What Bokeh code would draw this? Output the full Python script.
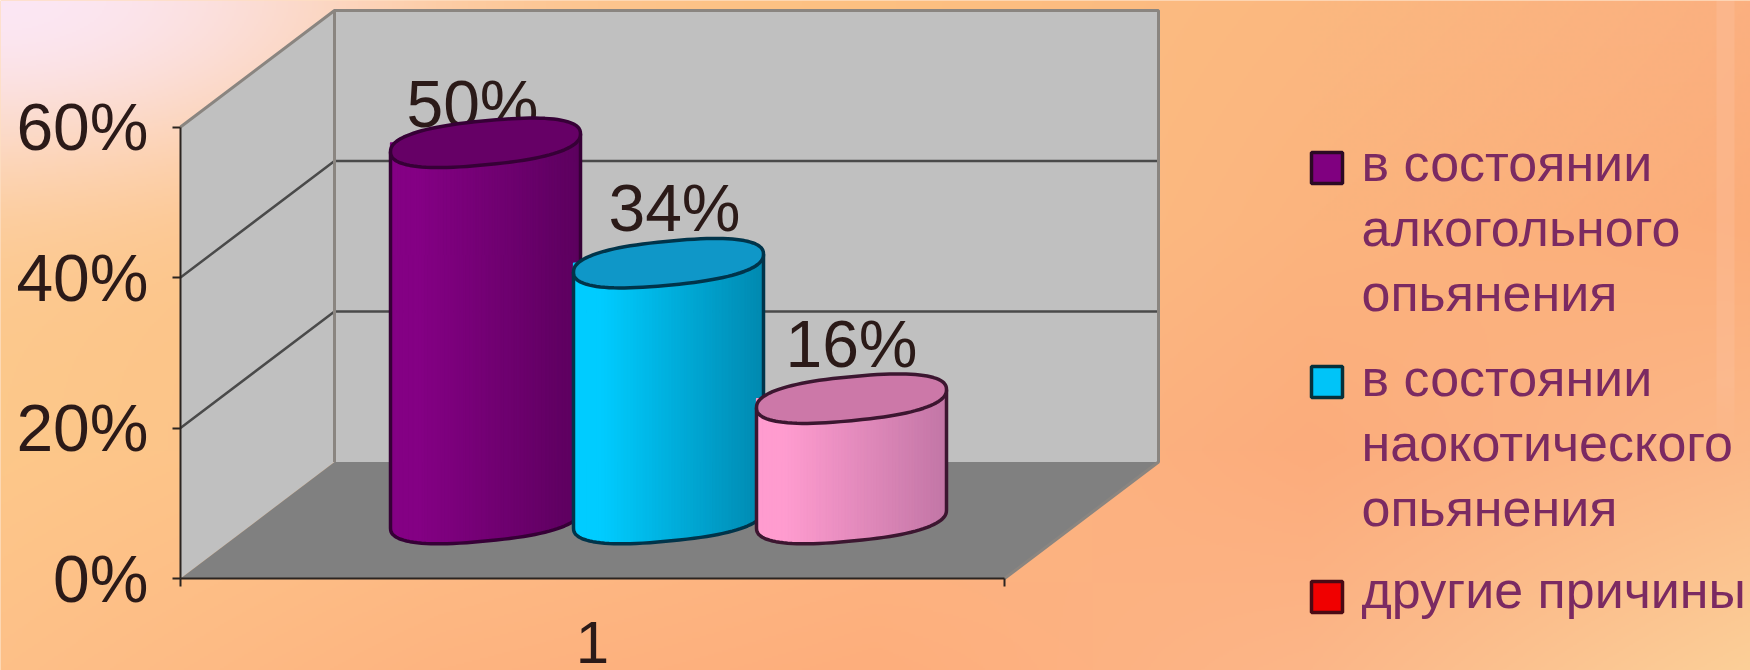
import numpy as np
from bokeh.embed import file_html
from bokeh.resources import INLINE
from bokeh.plotting import figure
from bokeh.models import Range1d, LinearAxis, FixedTicker, ColumnDataSource
from bokeh.core.properties import value

# ---- chart data ----
series_names = ["в состоянии алкогольного опьянения", "в состоянии наокотического опьянения", "другие причины"]
series_values = [50, 34, 16]
value_labels = ["50%", "34%", "16%"]
y_ticks = [0, 20, 40, 60]
y_tick_labels = ["0%", "20%", "40%", "60%"]
category_labels = ["1"]
legend_lines = [["в состоянии", "алкогольного", "опьянения"],
                ["в состоянии", "наокотического", "опьянения"],
                ["другие причины"]]

# ---- styles ----
side_left = ["#840084", "#00ccff", "#ff9ccf"]
side_right = ["#5c005e", "#0089b0", "#c276a6"]
top_fill = ["#660066", "#0f97c8", "#cc78a8"]
edge = ["#360036", "#00344a", "#3c1630"]
swatch_fill = ["#800080", "#00c4f8", "#f00000"]
swatch_edge = ["#2c0a24", "#06303a", "#4a0a14"]
text_dark = "#2b1a18"
legend_color = "#7b2a62"
FONT = "Liberation Sans"

# ---- geometry in reference pixels ----
PX = 7.525            # pixels per percentage point
X0, X1, Y0 = 180, 1004, 578
DX, DY = 154, 116.5   # depth shift of the back wall
LEFT, RIGHT, TOP, BOTTOM = 0, 1750, 0, 670


def v(py):
    return (Y0 - py) / PX


p = figure(width=1750, height=670, x_range=Range1d(LEFT, RIGHT), y_range=Range1d(v(BOTTOM), v(TOP)),
           x_axis_type=None, y_axis_type=None, toolbar_location=None, output_backend="svg",
           min_border=0, outline_line_color=None, background_fill_color="#fdbf85",
           border_fill_color="#fdbf85")
p.grid.visible = False

# ---- page background ----
w, h = 875, 335
xx, yy = np.meshgrid(np.linspace(LEFT, RIGHT, w), np.linspace(BOTTOM, TOP, h))
grid_x = np.array([0, 440, 875, 1310, 1750.0])
grid_y = np.array([0, 220, 450, 670.0])
grid_hex = [["#fdd0a4", "#fdc080", "#fdc080", "#fbb880", "#fbb080"],
            ["#fdc88c", "#fdc080", "#fcc084", "#fbb47e", "#fbad7a"],
            ["#fdc88a", "#fdc088", "#fcb884", "#fcac7c", "#fbb888"],
            ["#fdc088", "#feb480", "#feae7c", "#fcb688", "#fbcf98"]]
grid_rgb = np.array([[[int(c[i:i + 2], 16) for i in (1, 3, 5)] for c in row] for row in grid_hex], float)
ix = np.clip(np.searchsorted(grid_x, xx) - 1, 0, 3)
iy = np.clip(np.searchsorted(grid_y, yy) - 1, 0, 2)
fx = ((xx - grid_x[ix]) / (grid_x[ix + 1] - grid_x[ix]))[..., None]
fy = ((yy - grid_y[iy]) / (grid_y[iy + 1] - grid_y[iy]))[..., None]
bg = (grid_rgb[iy, ix] * (1 - fx) * (1 - fy) + grid_rgb[iy, ix + 1] * fx * (1 - fy)
      + grid_rgb[iy + 1, ix] * (1 - fx) * fy + grid_rgb[iy + 1, ix + 1] * fx * fy)
glow = np.exp(-((xx / 420) ** 2 + (yy / 170) ** 2))[..., None] * 0.95
bg = bg * (1 - glow) + np.array([251, 232, 248.0]) * glow
strip = ((xx > 1716) & (xx < 1734)) * np.clip((440 - yy) / 60, 0, 1) * 0.32
bg = bg * (1 - strip[..., None]) + np.array([252, 196, 165.0]) * strip[..., None]
img = np.zeros((h, w), dtype=np.uint32)
view = img.view(np.uint8).reshape((h, w, 4))
view[..., :3] = np.clip(bg, 0, 255).astype(np.uint8)
view[..., 3] = 255
p.image_rgba(image=[img], x=LEFT, y=v(BOTTOM), dw=RIGHT - LEFT, dh=v(TOP) - v(BOTTOM))

# ---- 3-D box ----
top_v = y_ticks[-1]
dv = DY / PX
p.patch([X0, X0, X0 + DX, X0 + DX], [0, top_v, top_v + dv, dv], fill_color="#c0c0c0", line_color=None)
p.patch([X0 + DX, X0 + DX, X1 + DX, X1 + DX], [dv, top_v + dv, top_v + dv, dv], fill_color="#c0c0c0", line_color=None)
p.patch([X0, X0 + DX, X1 + DX, X1], [0, dv, dv, 0], fill_color="#808080", line_color=None)
mid = y_ticks[1:-1]
p.multi_line([[X0, X0 + DX, X1 + DX] for _ in mid], [[t, t + dv, t + dv] for t in mid],
             line_color="#4a4a4a", line_width=2.5)
p.multi_line([[X0, X0 + DX, X1 + DX, X1 + DX, X1], [X0 + DX, X0 + DX]],
             [[top_v, top_v + dv, top_v + dv, dv, 0], [top_v + dv, dv]],
             line_color="#8a8580", line_width=3)

# ---- axes ----
y_axis = LinearAxis(fixed_location=X0, bounds=(0, top_v), ticker=FixedTicker(ticks=y_ticks),
                    major_label_overrides=dict(zip(y_ticks, y_tick_labels)),
                    major_label_text_font=FONT, major_label_text_font_size="66px",
                    major_label_text_color=text_dark, major_label_standoff=24,
                    major_tick_in=0, major_tick_out=8, minor_tick_line_color=None,
                    axis_line_color="#2b2420", axis_line_width=2, major_tick_line_color="#2b2420",
                    major_tick_line_width=2)
p.add_layout(y_axis, "left")
x_axis = LinearAxis(fixed_location=0, bounds=(X0, X1),
                    ticker=FixedTicker(ticks=[(X0 + X1) / 2], minor_ticks=[X0, X1]),
                    major_label_overrides={(X0 + X1) / 2: category_labels[0]},
                    major_label_text_font=FONT, major_label_text_font_size="60px",
                    major_label_text_color=text_dark, major_label_standoff=35,
                    major_tick_in=0, major_tick_out=0, minor_tick_in=0, minor_tick_out=8,
                    axis_line_color="#2b2420", axis_line_width=2, minor_tick_line_color="#2b2420",
                    minor_tick_line_width=2)
p.add_layout(x_axis, "below")

# ---- cylinders ----
BASE = 7.9           # base centre above the front axis, percent units
A, B, C = 95, 22, 9  # ellipse half width / half height / tilt, pixels
cx_first, cx_step = 485, 183


def ring(cx, cv):
    t = np.linspace(0, 2 * np.pi, 97)
    ux = np.sign(np.cos(t)) * np.abs(np.cos(t)) ** 0.8
    uy = np.sign(np.sin(t)) * np.abs(np.sin(t)) ** 0.85
    return cx + A * ux, cv + (B * uy + C * ux) / PX


def lerp_hex(a, b, f):
    ca = [int(a[i:i + 2], 16) for i in (1, 3, 5)]
    cb = [int(b[i:i + 2], 16) for i in (1, 3, 5)]
    return "#%02x%02x%02x" % tuple(int(round(x + (y - x) * f)) for x, y in zip(ca, cb))


label_dx = [-13, 6, 0]
label_dy = [13, 29, 29]
centres = [cx_first + cx_step * i for i in range(len(series_values))]
tops = [BASE + val for val in series_values]

# labels sit behind the cylinders
p.text(x=[c + d for c, d in zip(centres, label_dx)], y=[t + d / PX for t, d in zip(tops, label_dy)],
       text=value_labels, text_font=value(FONT), text_font_size="66px", text_color=text_dark,
       text_align="center", text_baseline="alphabetic", y_offset=-26)

for i, val in enumerate(series_values):
    cx, tv = centres[i], tops[i]
    bx, by = ring(cx, BASE)
    tx, ty = ring(cx, tv)
    half = len(bx) // 2
    lx, ly = bx[half:], by[half:]   # lower edge of the base, left to right
    n = 60
    edges = np.linspace(cx - A, cx + A, n + 1)
    mids = (edges[:-1] + edges[1:]) / 2
    cols = [lerp_hex(side_left[i], side_right[i], max(0.0, (m - (cx - A)) / (2 * A) - 0.15) / 0.85) for m in mids]
    src = ColumnDataSource(dict(left=edges[:-1], right=edges[1:], top=[tv] * n,
                                bottom=np.interp(mids, lx, ly), c=cols))
    p.quad(left="left", right="right", top="top", bottom="bottom", fill_color="c", line_color="c",
           line_width=1.2, source=src)
    ox = [lx[0]] + list(lx) + [lx[-1]]
    oy = [ty[half]] + list(ly) + [ty[0]]
    p.line(ox, oy, line_color=edge[i], line_width=3.5, line_join="round")
    p.patch(tx, ty, fill_color=top_fill[i], line_color=edge[i], line_width=3.5, line_join="round")

# ---- legend ----
sw_centres = [167.5, 381.5, 596.5]
line_first = [183, 398, 610]
line_step = 65
SW = 31
p.rect(x=[1326.5] * 3, y=[v(c) for c in sw_centres], width=SW, height=SW / PX,
       fill_color=swatch_fill, line_color=swatch_edge, line_width=3.5)
lx_all, ly_all, lt_all = [], [], []
for k, lines in enumerate(legend_lines):
    for j, s in enumerate(lines):
        lx_all.append(1361)
        ly_all.append(v(line_first[k] + j * line_step))
        lt_all.append(s)
p.text(x=lx_all, y=ly_all, text=lt_all, text_font=value(FONT), text_font_size="52px",
       text_color=legend_color, text_align="left", text_baseline="alphabetic", y_offset=-21)

open("out.html", "w").write(file_html(p, INLINE))
